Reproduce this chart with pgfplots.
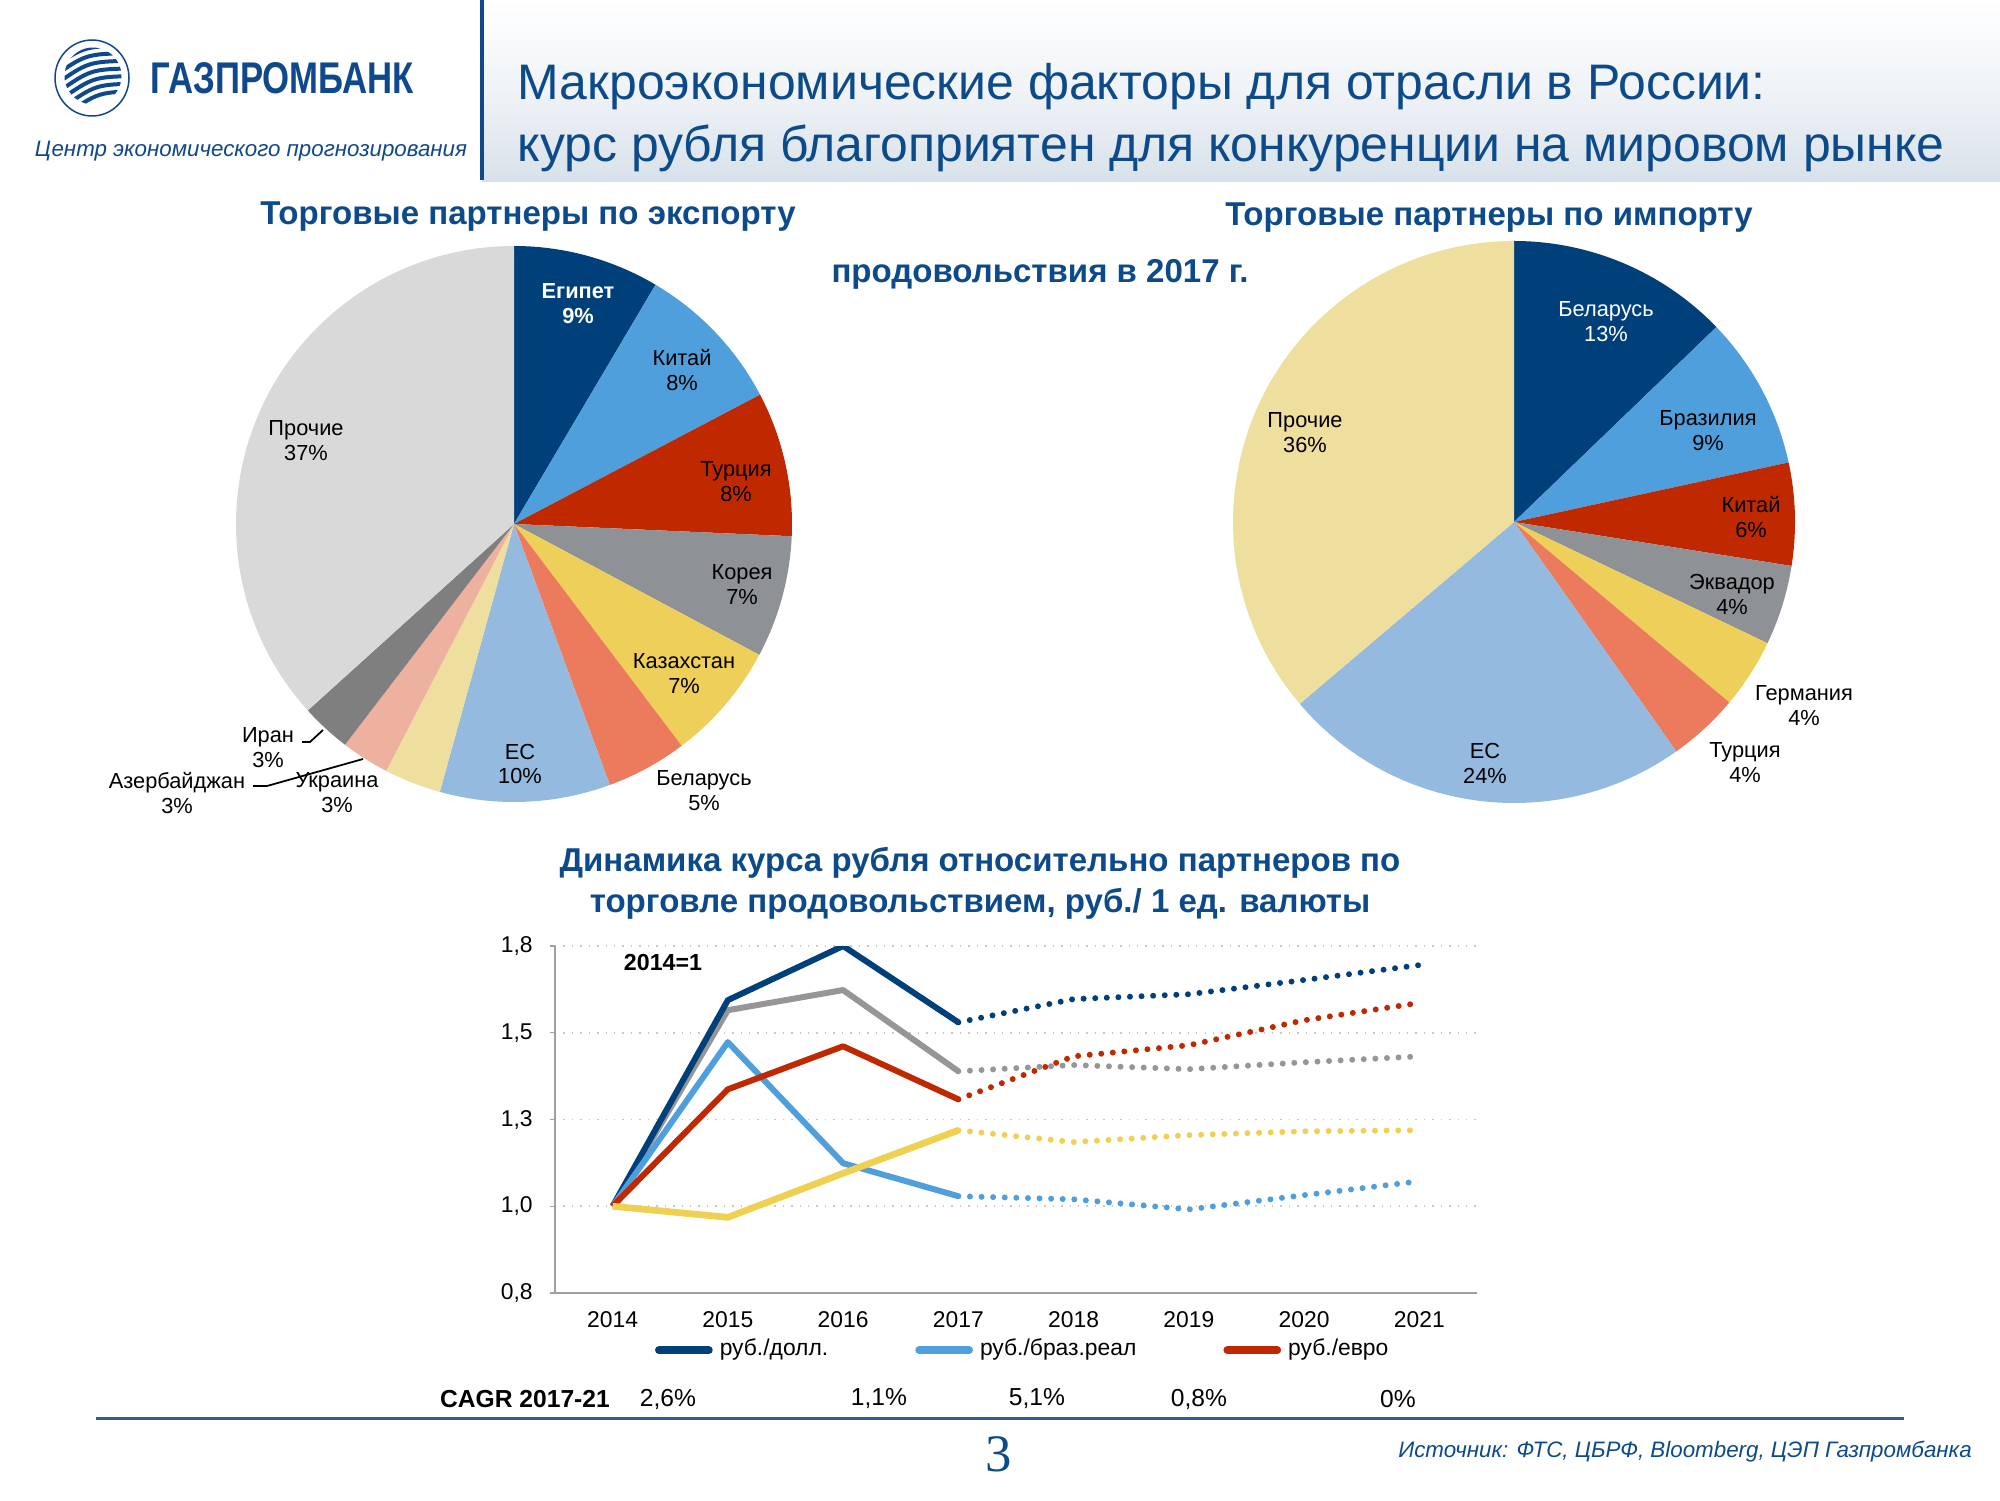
\documentclass[border=0pt]{standalone}
\usepackage{pgfplots}
\pgfplotsset{compat=1.18}
\usepackage{fontspec}
\setmainfont{Liberation Sans}
\newfontfamily\seriffont{Liberation Serif}
\newcommand\fs[2]{\fontsize{#1}{#2}\selectfont}
\definecolor{titleblue}{RGB}{12,74,138}
\definecolor{logoblue}{RGB}{16,72,140}
\definecolor{hdrbottom}{RGB}{216,225,234}
\definecolor{cdblue}{RGB}{0,64,122}
\definecolor{clblue}{RGB}{79,159,220}
\definecolor{cred}{RGB}{192,40,0}
\definecolor{cgray}{RGB}{142,146,150}
\definecolor{cyellow}{RGB}{238,207,90}
\definecolor{csalmon}{RGB}{236,122,92}
\definecolor{ceu}{RGB}{149,186,224}
\definecolor{clyellow}{RGB}{238,223,159}
\definecolor{cpink}{RGB}{238,177,160}
\definecolor{cdgray}{RGB}{127,127,127}
\definecolor{clgray}{RGB}{217,217,217}
\definecolor{lgrayline}{RGB}{150,150,150}
\definecolor{lyellowline}{RGB}{239,208,80}
\definecolor{axgray}{RGB}{160,160,160}
\definecolor{gridgray}{RGB}{200,200,200}
\definecolor{rulecol}{RGB}{45,95,145}
% pie slice: start %, end %, colour, radius (cm)
\newcommand\slice[4]{\fill[#3] (axis cs:0,0) -- ++({90-3.6*#1}:#4cm) arc[start angle={90-3.6*#1}, end angle={90-3.6*#2}, radius=#4cm] -- cycle;}
\begin{document}
\begin{tikzpicture}
\useasboundingbox (0,0) rectangle (20,15);
\fill[white] (0,0) rectangle (20,15);
% header
\shade[top color=white, bottom color=hdrbottom, middle color=white!60!hdrbottom] (4.82,15) rectangle (20,13.18);
\draw[logoblue, line width=0.04cm] (4.82,15) -- (4.82,13.2);
% logo
\draw[logoblue, line width=0.015cm] (0.92,14.22) ellipse (0.37 and 0.38);
\begin{scope}[shift={(0.93,14.24)}, rotate=18]
\clip (0,0) circle (0.285);
\foreach \y in {-0.26,-0.18,...,0.27}
  \draw[logoblue, line width=0.04cm] (-0.4,\y-0.03) .. controls (0,\y+0.09) .. (0.4,\y-0.03);
\end{scope}
\node[anchor=west, inner sep=0, text=logoblue] at (1.50,14.215) {\resizebox{2.63cm}{0.31cm}{\bfseries ГАЗПРОМБАНК}};
\node[inner sep=0, text=logoblue, font=\fs{6.35pt}{8pt}\itshape] at (2.51,13.49) {Центр экономического прогнозирования};
\node[anchor=base west, inner sep=0, text=titleblue, font=\fs{14.2pt}{17pt}] at (5.17,14.00) {Макроэкономические факторы для отрасли в России:};
\node[anchor=base west, inner sep=0, text=titleblue, font=\fs{14.2pt}{17pt}] at (5.17,13.38) {курс рубля благоприятен для конкуренции на мировом рынке};
% pie titles
\node[inner sep=0, text=titleblue, font=\fs{9.4pt}{11pt}\bfseries] at (5.28,12.83) {Торговые партнеры по экспорту};
\node[inner sep=0, text=titleblue, font=\fs{9.4pt}{11pt}\bfseries] at (14.89,12.82) {Торговые партнеры по импорту};
\node[inner sep=0, text=titleblue, font=\fs{9.4pt}{11pt}\bfseries] at (10.40,12.26) {продовольствия в 2017 г.};
% export pie
\begin{axis}[at={(5.14cm,9.76cm)}, anchor=center, hide axis, clip=false, x=1cm, y=1cm, xmin=-3, xmax=3, ymin=-3, ymax=3]
\slice{0}{8.5}{cdblue}{2.78}
\slice{8.5}{17.3}{clblue}{2.78}
\slice{17.3}{25.7}{cred}{2.78}
\slice{25.7}{32.8}{cgray}{2.78}
\slice{32.8}{39.7}{cyellow}{2.78}
\slice{39.7}{44.4}{csalmon}{2.78}
\slice{44.4}{54.3}{ceu}{2.78}
\slice{54.3}{57.6}{clyellow}{2.78}
\slice{57.6}{60.4}{cpink}{2.78}
\slice{60.4}{63.3}{cdgray}{2.78}
\slice{63.3}{100}{clgray}{2.78}
\end{axis}
% import pie
\begin{axis}[at={(15.14cm,9.78cm)}, anchor=center, hide axis, clip=false, x=1cm, y=1cm, xmin=-3, xmax=3, ymin=-3, ymax=3]
\slice{0}{12.8}{cdblue}{2.81}
\slice{12.8}{21.6}{clblue}{2.81}
\slice{21.6}{27.5}{cred}{2.81}
\slice{27.5}{32.1}{cgray}{2.81}
\slice{32.1}{36.1}{cyellow}{2.81}
\slice{36.1}{40.2}{csalmon}{2.81}
\slice{40.2}{63.8}{ceu}{2.81}
\slice{63.8}{100}{clyellow}{2.81}
\end{axis}
% pie labels
\tikzset{lab/.style={inner sep=0, align=center, font=\fs{6.2pt}{7.1pt}}}
\node[lab, text=white, font=\fs{6.2pt}{7.1pt}\bfseries] at (5.78,11.96) {Египет\\9\%};
\node[lab] at (6.82,11.30) {Китай\\8\%};
\node[lab] at (7.36,10.18) {Турция\\8\%};
\node[lab] at (7.42,9.15) {Корея\\7\%};
\node[lab] at (6.84,8.26) {Казахстан\\7\%};
\node[lab] at (7.04,7.09) {Беларусь\\5\%};
\node[lab] at (5.20,7.36) {ЕС\\10\%};
\node[lab] at (3.37,7.07) {Украина\\3\%};
\node[lab] at (1.77,7.07) {Азербайджан\\3\%};
\node[lab] at (2.68,7.52) {Иран\\3\%};
\node[lab] at (3.06,10.59) {Прочие\\37\%};
\draw[black, line width=0.5pt] (3.02,7.58) -- (3.10,7.58) -- (3.23,7.70);
\draw[black, line width=0.5pt] (2.53,7.14) -- (2.67,7.14) -- (3.63,7.41);
\node[lab, text=white] at (16.06,11.78) {Беларусь\\13\%};
\node[lab] at (17.08,10.69) {Бразилия\\9\%};
\node[lab] at (17.51,9.83) {Китай\\6\%};
\node[lab] at (17.32,9.06) {Эквадор\\4\%};
\node[lab] at (18.04,7.94) {Германия\\4\%};
\node[lab] at (17.45,7.37) {Турция\\4\%};
\node[lab] at (14.85,7.37) {ЕС\\24\%};
\node[lab] at (13.05,10.67) {Прочие\\36\%};
% line chart title
\node[inner sep=0, text=titleblue, font=\fs{9.4pt}{11pt}\bfseries] at (9.80,6.37) {Динамика курса рубля относительно партнеров по};
\node[inner sep=0, text=titleblue, font=\fs{9.4pt}{11pt}\bfseries] at (9.80,5.96) {торговле продовольствием, руб./ 1 ед. валюты};
% line chart
\begin{axis}[at={(5.55cm,2.07cm)}, anchor=south west, scale only axis, width=9.22cm, height=3.47cm,
  xmin=-0.5, xmax=7.5, ymin=0.75, ymax=1.75,
  axis x line*=bottom, axis y line*=left,
  x axis line style={draw=axgray, line width=0.8pt, -},
  y axis line style={draw=axgray, line width=0.5pt, -},
  xtick={0,...,7}, xticklabels={2014,2015,2016,2017,2018,2019,2020,2021},
  xtick style={draw=none},
  extra x ticks={-0.5,0.5,1.5,2.5,3.5,4.5,5.5,6.5,7.5}, extra x tick labels={},
  extra x tick style={grid=none, tick align=outside, major tick length=0.08cm, tick style={draw=axgray, line width=0.5pt}},
  ytick={0.75,1,1.25,1.5,1.75}, yticklabels={{0,8},{1,0},{1,3},{1,5},{1,8}},
  ytick style={draw=axgray, line width=0.4pt}, tick align=outside, major tick length=0.05cm,
  ymajorgrids, grid style={gridgray, dotted, line width=0.5pt},
  tick label style={font=\fs{6.5pt}{7.5pt}, text=black},
  xticklabel style={yshift=-0.01cm}, yticklabel style={xshift=-0.05cm},
  legend columns=3,
  legend style={at={(0.510,-0.165)}, anchor=center, draw=none, fill=none, font=\fs{6.5pt}{7.5pt}, inner sep=0pt,
    /tikz/every even column/.append style={column sep=0.80cm}},
  legend image code/.code={\draw[#1, line width=2.2pt, line cap=round] (0cm,0cm) -- (0.5cm,0cm);},
  solid line/.style={line width=1.7pt, line join=round},
  dot line/.style={line width=1.7pt, line cap=round, dash pattern=on 0pt off 3.3pt},
]
% forecasts (dotted)
\addplot[forget plot, dot line, color=lgrayline] coordinates {(3,1.389) (4,1.407) (5,1.395) (6,1.415) (7,1.432)};
\addplot[forget plot, dot line, color=cdblue] coordinates {(3,1.53) (4,1.597) (5,1.611) (6,1.652) (7,1.695)};
\addplot[forget plot, dot line, color=cred] coordinates {(3,1.308) (4,1.432) (5,1.464) (6,1.536) (7,1.586)};
\addplot[forget plot, dot line, color=clblue] coordinates {(3,1.029) (4,1.02) (5,0.991) (6,1.032) (7,1.072)};
\addplot[forget plot, dot line, color=lyellowline] coordinates {(3,1.219) (4,1.185) (5,1.205) (6,1.216) (7,1.219)};
% history (solid)
\addplot[forget plot, solid line, color=lgrayline] coordinates {(0,1) (1,1.565) (2,1.623) (3,1.389)};
\addplot[solid line, color=cdblue] coordinates {(0,1) (1,1.594) (2,1.75) (3,1.53)};
\addlegendentry{руб./долл.}
\addplot[solid line, color=clblue] coordinates {(0,1) (1,1.473) (2,1.124) (3,1.029)};
\addlegendentry{руб./браз.реал}
\addplot[solid line, color=cred] coordinates {(0,1) (1,1.337) (2,1.461) (3,1.308)};
\addlegendentry{руб./евро}
\addplot[forget plot, solid line, color=lyellowline, line width=1.9pt] coordinates {(0,1) (1,0.968) (2,1.095) (3,1.219)};
\end{axis}
\node[inner sep=0, font=\fs{6.6pt}{7.5pt}\bfseries] at (6.63,5.37) {2014=1};
% CAGR row
\node[inner sep=0, font=\fs{7pt}{8pt}\bfseries] at (5.25,1.01) {CAGR 2017-21};
\node[inner sep=0, font=\fs{7pt}{8pt}] at (6.68,1.01) {2,6\%};
\node[inner sep=0, font=\fs{7pt}{8pt}] at (8.79,1.01) {1,1\%};
\node[inner sep=0, font=\fs{7pt}{8pt}] at (10.37,1.01) {5,1\%};
\node[inner sep=0, font=\fs{7pt}{8pt}] at (11.99,1.01) {0,8\%};
\node[inner sep=0, font=\fs{7pt}{8pt}] at (13.98,1.01) {0\%};
% footer
\draw[rulecol, line width=0.03cm] (0.96,0.82) -- (19.04,0.82);
\node[inner sep=0, text=titleblue, font=\seriffont\fs{15pt}{17pt}] at (9.99,0.46) {3};
\node[inner sep=0, text=titleblue, font=\fs{6.36pt}{8pt}\itshape] at (16.85,0.48) {Источник: ФТС, ЦБРФ, Bloomberg, ЦЭП Газпромбанка};
\end{tikzpicture}
\end{document}
